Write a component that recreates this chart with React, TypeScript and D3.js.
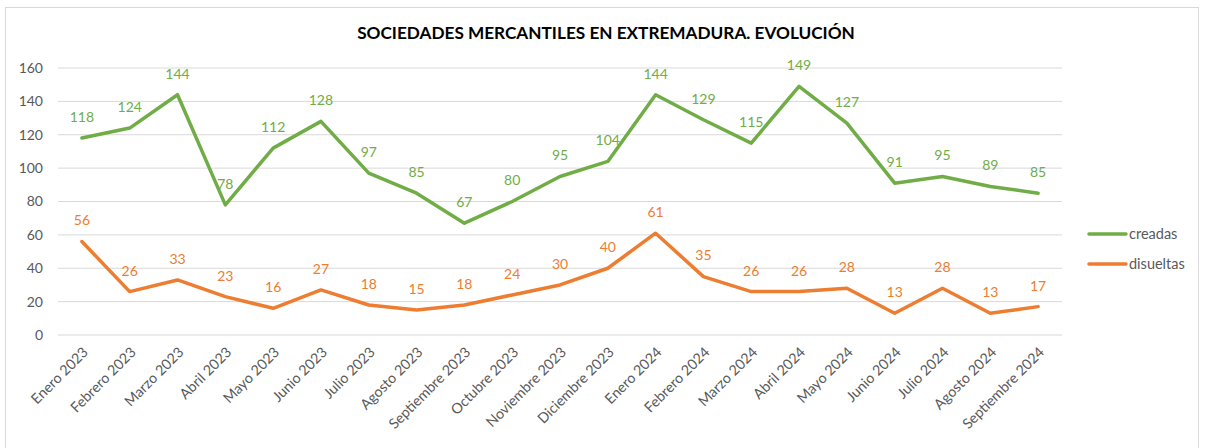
import React from "react";
import * as d3 from "d3";

const months = [
  "Enero 2023", "Febrero 2023", "Marzo 2023", "Abril 2023", "Mayo 2023", "Junio 2023",
  "Julio 2023", "Agosto 2023", "Septiembre 2023", "Octubre 2023", "Noviembre 2023",
  "Diciembre 2023", "Enero 2024", "Febrero 2024", "Marzo 2024", "Abril 2024", "Mayo 2024",
  "Junio 2024", "Julio 2024", "Agosto 2024", "Septiembre 2024",
];
const creadas = [118, 124, 144, 78, 112, 128, 97, 85, 67, 80, 95, 104, 144, 129, 115, 149, 127, 91, 95, 89, 85];
const disueltas = [56, 26, 33, 23, 16, 27, 18, 15, 18, 24, 30, 40, 61, 35, 26, 26, 28, 13, 28, 13, 17];
const yTicks = [0, 20, 40, 60, 80, 100, 120, 140, 160];
const title = "SOCIEDADES MERCANTILES EN EXTREMADURA. EVOLUCIÓN";
const seriesList = [
  { name: "creadas", values: creadas, color: "#70AD47" },
  { name: "disueltas", values: disueltas, color: "#ED7D31" },
];

const W = 1206;
const H = 448;
const FONT = "Lato, 'Open Sans', sans-serif";

export default function App() {
  const left = 58, right = 1062, top = 68, bottom = 335;
  const x = d3.scaleBand<string>().domain(months).range([left, right]);
  const y = d3.scaleLinear().domain([0, 160]).range([bottom, top]);
  const cx = (m: string) => (x(m) as number) + x.bandwidth() / 2;
  const line = d3.line<number>().x((_, i) => cx(months[i])).y((v) => y(v));

  return (
    <svg width={W} height={H} style={{ position: "absolute", left: 0, top: 0, background: "#fff" }} fontFamily={FONT}>
      <rect x={5.5} y={7.5} width={1193} height={445} fill="#fff" stroke="#D9D9D9" />
      <text x={606} y={39} textAnchor="middle" fontWeight="bold" fontSize={17.2} fill="#000">{title}</text>
      {yTicks.map((t) => (
        <g key={t}>
          <line x1={left} x2={right} y1={y(t)} y2={y(t)} stroke="#D9D9D9" strokeWidth={1} />
          <text x={43} y={y(t)} dy="0.35em" textAnchor="end" fontSize={14} fill="#595959">{t}</text>
        </g>
      ))}
      {months.map((m) => (
        <text key={m} transform={`translate(${cx(m)},${bottom + 11}) rotate(-45)`} textAnchor="end" dy="0.7em" fontSize={14.3} fill="#595959">{m}</text>
      ))}
      {seriesList.map((s) => (
        <g key={s.name}>
          <path d={line(s.values) || ""} fill="none" stroke={s.color} strokeWidth={3.5} strokeLinejoin="round" strokeLinecap="round" />
          {s.values.map((v, i) => (
            <text key={i} x={cx(months[i])} y={y(v) - 21} dy="0.35em" textAnchor="middle" fontSize={14} fill={s.color}>{v}</text>
          ))}
        </g>
      ))}
      {seriesList.map((s, i) => (
        <g key={s.name} transform={`translate(1089,${234 + i * 30})`}>
          <line x1={0} x2={37} y1={0} y2={0} stroke={s.color} strokeWidth={3.5} strokeLinecap="round" />
          <text x={40} y={0} dy="0.35em" fontSize={14.5} fill="#595959">{s.name}</text>
        </g>
      ))}
    </svg>
  );
}
